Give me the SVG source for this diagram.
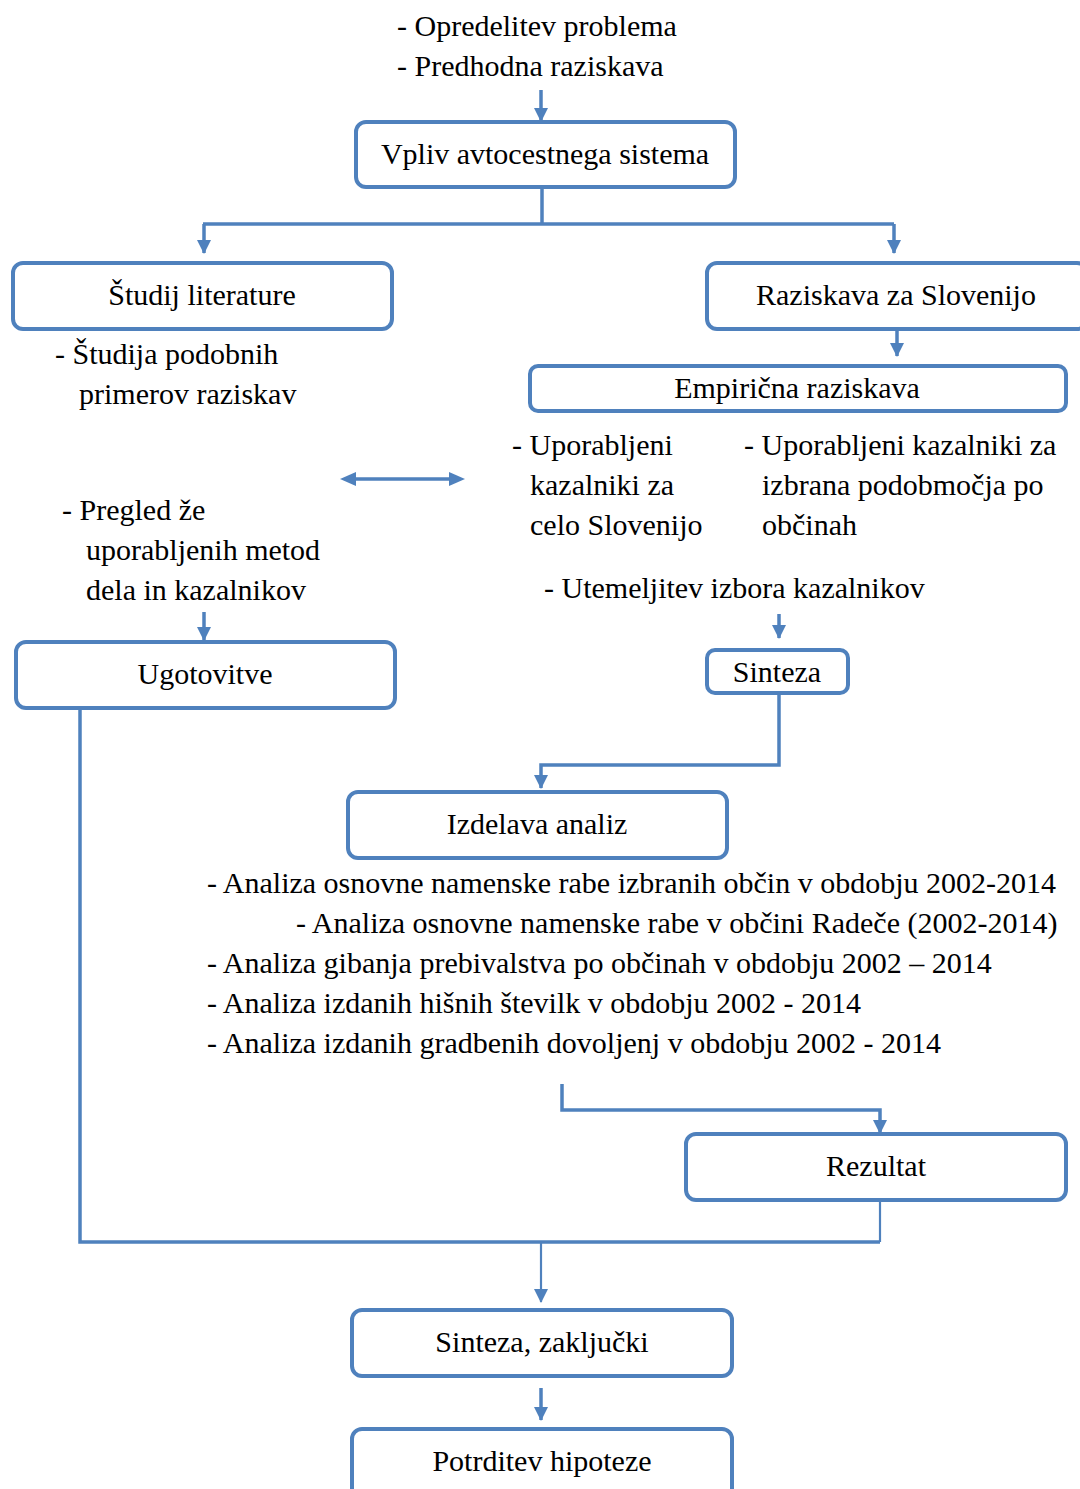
<svg xmlns="http://www.w3.org/2000/svg" width="1080" height="1489" viewBox="0 0 1080 1489">
<defs>
<style>
.box{fill:#fff;stroke:#4F81BD;stroke-width:4}
.ln{fill:none;stroke:#4F81BD;stroke-width:3.5}
.thin{fill:none;stroke:#4F81BD;stroke-width:2.2}
text{font-family:"Liberation Serif","Times New Roman",serif;font-size:30px;fill:#000}
.c{text-anchor:middle}
</style>
<marker id="ah2" markerWidth="14" markerHeight="14" refX="13" refY="7" orient="auto" markerUnits="userSpaceOnUse" viewBox="0 0 14 14">
<path d="M0,0 L14,7 L0,14 Z" fill="#4F81BD"/>
</marker>
</defs>
<rect width="1080" height="1489" fill="#fff"/>
<g id="connectors">
<path class="ln" d="M541,90 V121" marker-end="url(#ah2)"/>
<path class="ln" d="M542,188 V224"/>
<path class="ln" d="M203,224 H894"/>
<path class="ln" d="M204,224 V253" marker-end="url(#ah2)"/>
<path class="ln" d="M894,224 V253" marker-end="url(#ah2)"/>
<path class="ln" d="M897,330 V356" marker-end="url(#ah2)"/>
<path class="ln" d="M350,479 H455"/>
<path d="M340,479 L356,472 L356,486 Z" fill="#4F81BD"/>
<path d="M465,479 L449,472 L449,486 Z" fill="#4F81BD"/>
<path class="ln" d="M204,612 V640" marker-end="url(#ah2)"/>
<path class="ln" d="M779,614 V638" marker-end="url(#ah2)"/>
<path class="ln" d="M779,694 V765 H541 V788" marker-end="url(#ah2)"/>
<path class="ln" d="M562,1084 V1110 H880 V1133" marker-end="url(#ah2)"/>
<path class="ln" d="M80,709 V1242 H880"/>
<path class="thin" d="M880,1202 V1242"/>
<path class="thin" d="M541,1243 V1302" marker-end="url(#ah2)"/>
<path class="ln" d="M541,1388 V1420" marker-end="url(#ah2)"/>
</g>
<g id="top-text">
<text x="397" y="36">- Opredelitev problema</text>
<text x="397" y="76">- Predhodna raziskava</text>
</g>
<g id="vpliv"><rect class="box" x="356" y="122" width="379" height="65" rx="10"/><text class="c" x="545" y="164">Vpliv avtocestnega sistema</text></g>
<g id="studij"><rect class="box" x="13" y="263" width="379" height="66" rx="10"/><text class="c" x="202" y="305">Študij literature</text></g>
<g id="raziskava"><rect class="box" x="707" y="263" width="380" height="66" rx="10"/><text class="c" x="896" y="305">Raziskava za Slovenijo</text></g>
<g id="empiricna"><rect class="box" x="530" y="366" width="536" height="45" rx="8"/><text class="c" x="797" y="398">Empirična raziskava</text></g>
<g id="left-notes">
<text x="55" y="364">- Študija podobnih</text>
<text x="79" y="404">primerov raziskav</text>
<text x="62" y="520">- Pregled že</text>
<text x="86" y="560">uporabljenih metod</text>
<text x="86" y="600">dela in kazalnikov</text>
</g>
<g id="right-notes">
<text x="512" y="455">- Uporabljeni</text>
<text x="530" y="495">kazalniki za</text>
<text x="530" y="535">celo Slovenijo</text>
<text x="744" y="455">- Uporabljeni kazalniki za</text>
<text x="762" y="495">izbrana podobmočja po</text>
<text x="762" y="535">občinah</text>
<text x="544" y="598">- Utemeljitev izbora kazalnikov</text>
</g>
<g id="ugotovitve"><rect class="box" x="16" y="642" width="379" height="66" rx="10"/><text class="c" x="205" y="684">Ugotovitve</text></g>
<g id="sinteza"><rect class="box" x="707" y="650" width="141" height="43" rx="8"/><text class="c" x="777" y="682">Sinteza</text></g>
<g id="izdelava"><rect class="box" x="348" y="792" width="379" height="66" rx="10"/><text class="c" x="537" y="834">Izdelava analiz</text></g>
<g id="analize">
<text x="207" y="893">- Analiza osnovne namenske rabe izbranih občin v obdobju 2002-2014</text>
<text x="296" y="933">- Analiza osnovne namenske rabe v občini Radeče (2002-2014)</text>
<text x="207" y="973">- Analiza gibanja prebivalstva po občinah v obdobju 2002 – 2014</text>
<text x="207" y="1013">- Analiza izdanih hišnih številk v obdobju 2002 - 2014</text>
<text x="207" y="1053">- Analiza izdanih gradbenih dovoljenj v obdobju 2002 - 2014</text>
</g>
<g id="rezultat"><rect class="box" x="686" y="1134" width="380" height="66" rx="10"/><text class="c" x="876" y="1176">Rezultat</text></g>
<g id="sinteza-zakljucki"><rect class="box" x="352" y="1310" width="380" height="66" rx="10"/><text class="c" x="542" y="1352">Sinteza, zaključki</text></g>
<g id="potrditev"><rect class="box" x="352" y="1429" width="380" height="70" rx="10"/><text class="c" x="542" y="1471">Potrditev hipoteze</text></g>
</svg>
